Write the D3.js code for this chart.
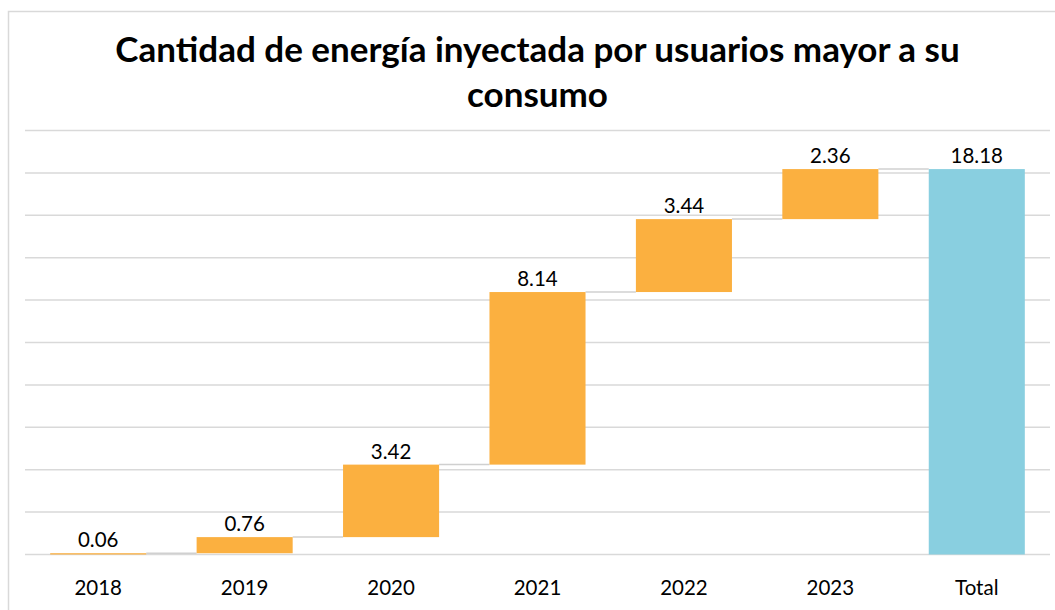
<!DOCTYPE html>
<html>
<head>
<meta charset="utf-8">
<script src="https://cdn.jsdelivr.net/npm/d3@7"></script>
<style>
	body { margin: 0; background: #fff; }
	svg { display: block; }
	text { font-family: Lato, "Open Sans", sans-serif; fill: #000; }
</style>
</head>
<body>
<svg width="1055" height="610"></svg>
<script>
// data
const categories = ['2018', '2019', '2020', '2021', '2022', '2023', 'Total'];
const increments = [0.06, 0.76, 3.42, 8.14, 3.44, 2.36];
const total = 18.18;
const gridTicks = [0, 2, 4, 6, 8, 10, 12, 14, 16, 18, 20];
const titleLines = ['Cantidad de energía inyectada por usuarios mayor a su', 'consumo'];

const width = 1055, height = 610;
const svg = d3.select('svg');

// outer chart border
svg.append('rect')
	.attr('x', 8.5).attr('y', 11.5)
	.attr('width', 1060).attr('height', 620)
	.attr('fill', 'none')
	.attr('stroke', '#d9d9d9')
	.attr('stroke-width', 1.5);

let x = d3.scaleBand()
	.domain(categories)
	.range([25, 1050])
	.paddingInner(0.344)
	.paddingOuter(0.172);

let y = d3.scaleLinear()
	.domain([0, 20])
	.range([554.5, 130.5]);

// gridlines
svg.append('g')
	.selectAll('line')
	.data(gridTicks)
	.join('line')
	.attr('x1', 25).attr('x2', 1050)
	.attr('y1', d => y(d)).attr('y2', d => y(d))
	.attr('stroke', '#d9d9d9')
	.attr('stroke-width', 1.5);

// build the waterfall steps
let running = 0;
let steps = increments.map((v, i) => {
	let s = { cat: categories[i], start: running, end: running + v, value: v, total: false };
	running += v;
	return s;
});
steps.push({ cat: 'Total', start: 0, end: total, value: total, total: true });

// connectors
svg.append('g')
	.selectAll('line')
	.data(steps.slice(0, -1))
	.join('line')
	.attr('x1', d => x(d.cat) + x.bandwidth())
	.attr('x2', (d, i) => x(steps[i + 1].cat))
	.attr('y1', d => y(d.end))
	.attr('y2', d => y(d.end))
	.attr('stroke', '#d0d0d0')
	.attr('stroke-width', 1.5);

// bars
svg.append('g')
	.selectAll('rect')
	.data(steps)
	.join('rect')
	.attr('x', d => x(d.cat))
	.attr('width', x.bandwidth())
	.attr('y', d => y(d.end))
	.attr('height', d => Math.max(1, y(d.start) - y(d.end)))
	.attr('fill', d => d.total ? '#89CFE0' : '#FBB040');

// value labels
svg.append('g')
	.selectAll('text')
	.data(steps)
	.join('text')
	.attr('x', d => x(d.cat) + x.bandwidth() / 2)
	.attr('y', d => y(d.end) - 6)
	.attr('text-anchor', 'middle')
	.attr('font-size', 20.5)
	.text(d => d.value.toFixed(2));

// category labels
svg.append('g')
	.selectAll('text')
	.data(categories)
	.join('text')
	.attr('x', d => x(d) + x.bandwidth() / 2)
	.attr('y', 595)
	.attr('text-anchor', 'middle')
	.attr('font-size', 20.5)
	.text(d => d);

// title
svg.append('g')
	.selectAll('text')
	.data(titleLines)
	.join('text')
	.attr('x', 537.5)
	.attr('y', (d, i) => 62 + i * 45)
	.attr('text-anchor', 'middle')
	.attr('font-size', 35)
	.attr('font-weight', 'bold')
	.text(d => d);
</script>
</body>
</html>
